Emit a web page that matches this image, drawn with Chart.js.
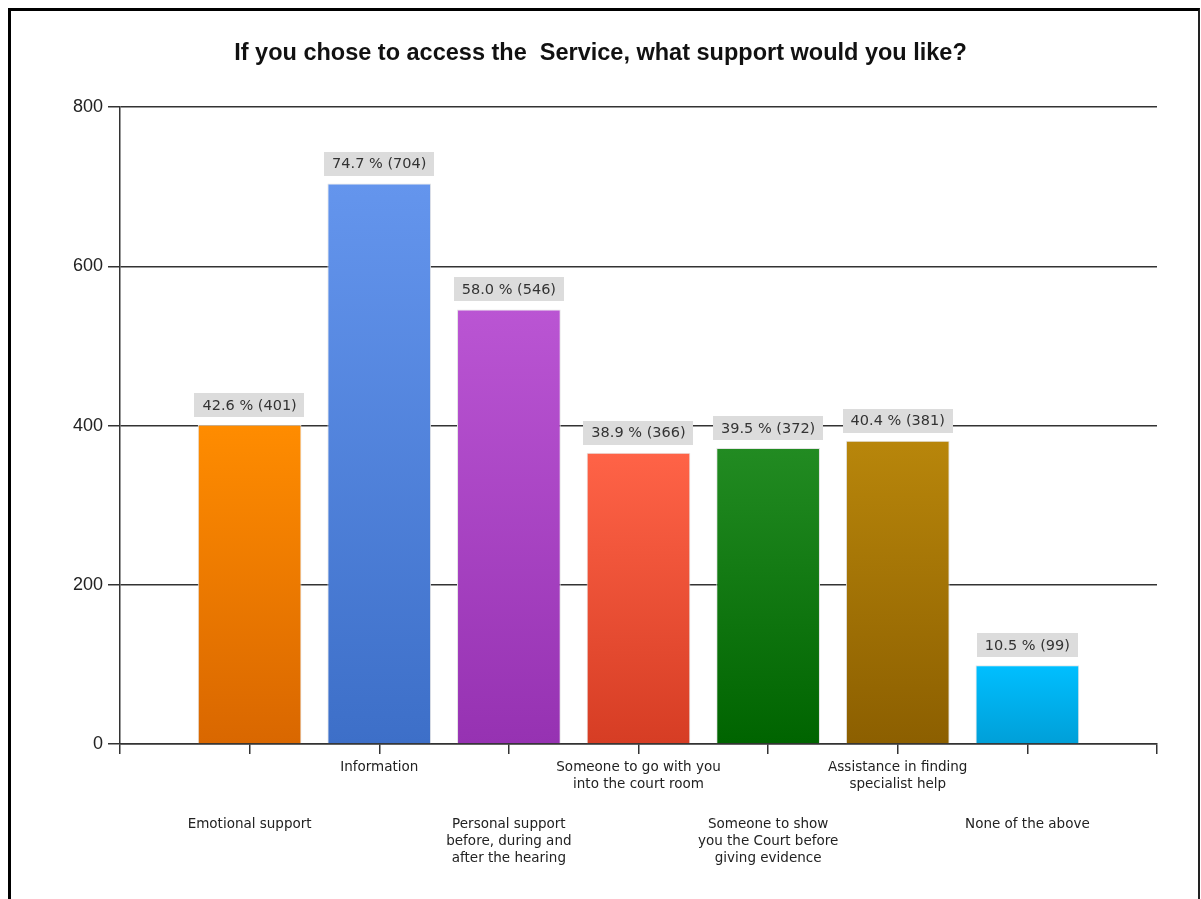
<!DOCTYPE html>
<html>
<head>
<meta charset="utf-8">
<title>Support wanted from the Service</title>
<script src="https://cdn.jsdelivr.net/npm/chart.js@4/dist/chart.umd.min.js"></script>
<style>
  html, body { margin: 0; padding: 0; background: #fff; overflow: hidden; }
  #frame {
    position: absolute; left: 8px; top: 8px; width: 1187px; height: 1000px;
    border-left: 3px solid #000; border-top: 3px solid #000; border-right: 2px solid #222;
  }
  #chart { position: absolute; left: 0; top: 0; }
</style>
</head>
<body>
<div id="frame"></div>
<canvas id="chart" width="1201" height="899"></canvas>
<script>
const titleText = "If you chose to access the  Service, what support would you like?"
const categories = [
  ["Emotional support"],
  ["Information"],
  ["Personal support", "before, during and", "after the hearing"],
  ["Someone to go with you", "into the court room"],
  ["Someone to show", "you the Court before", "giving evidence"],
  ["Assistance in finding", "specialist help"],
  ["None of the above"]
]
const counts = [401, 704, 546, 366, 372, 381, 99]
const percents = [42.6, 74.7, 58.0, 38.9, 39.5, 40.4, 10.5]
const topColors = ["#ff8c00", "#6495ed", "#ba55d3", "#ff6347", "#228b22", "#b8860b", "#00bfff"]
const bottomColors = ["#d96700", "#3d6fc8", "#9632b2", "#d63d24", "#006400", "#8c5f00", "#009fd8"]
const yTicks = [0, 200, 400, 600, 800]

// one empty slot on each side, so bars sit one slot in from the axis ends
const labels = ["", ...categories.map(c => c.join(" ")), ""]
const values = [null, ...counts, null]

const axisColor = "#333"

function barGradient(ctx) {
  const i = ctx.dataIndex - 1
  const chart = ctx.chart
  const area = chart.chartArea
  if (i < 0 || i >= counts.length) return "#fff"
  if (!area) return topColors[i]
  const yTop = chart.scales.y.getPixelForValue(counts[i])
  const g = chart.ctx.createLinearGradient(0, yTop, 0, area.bottom)
  g.addColorStop(0, topColors[i])
  g.addColorStop(1, bottomColors[i])
  return g
}

const valueBoxes = {
  id: "valueBoxes",
  afterDatasetsDraw(chart) {
    const ctx = chart.ctx
    const meta = chart.getDatasetMeta(0)
    ctx.save()
    ctx.font = "14.5px 'DejaVu Sans'"
    ctx.textAlign = "center"
    ctx.textBaseline = "middle"
    meta.data.forEach((bar, idx) => {
      const i = idx - 1
      if (i < 0 || i >= counts.length) return
      const text = `${percents[i].toFixed(1)} % (${counts[i]})`
      const w = ctx.measureText(text).width + 16
      const h = 24
      const bottom = bar.y - 8
      ctx.fillStyle = "#dcdcdc"
      ctx.fillRect(Math.round(bar.x - w / 2), Math.round(bottom - h), Math.round(w), h)
      ctx.fillStyle = "#333"
      ctx.fillText(text, bar.x, bottom - h / 2 + 1)
    })
    ctx.restore()
  }
}

const chart = new Chart(document.getElementById("chart"), {
  type: "bar",
  data: {
    labels: labels,
    datasets: [{
      data: values,
      backgroundColor: barGradient,
      borderColor: "#e4e4e4",
      borderWidth: 1,
      barPercentage: 0.8,
      categoryPercentage: 1
    }]
  },
  options: {
    responsive: false,
    animation: false,
    layout: { padding: 0 },
    plugins: {
      legend: { display: false },
      tooltip: { enabled: false },
      title: {
        display: true,
        text: titleText,
        color: "#111",
        font: { family: "'Liberation Sans', Arial", size: 23.5, weight: "bold", lineHeight: 1.2 },
        padding: { top: 39, bottom: 40 }
      }
    },
    scales: {
      x: {
        type: "category",
        position: "bottom",
        weight: 1,
        offset: false,
        grid: { display: true, offset: false, drawOnChartArea: false, drawTicks: true, tickLength: 10, color: axisColor, lineWidth: 1.5 },
        border: { display: true, color: axisColor, width: 1.5 },
        ticks: {
          autoSkip: false, maxRotation: 0, minRotation: 0, padding: 5,
          color: "#222",
          font: { family: "'DejaVu Sans'", size: 13.5, lineHeight: 1.25 },
          callback: (v, i) => (i >= 1 && i <= categories.length && (i - 1) % 2 === 1) ? categories[i - 1] : ""
        },
        afterFit: s => { s.height = 60 }
      },
      x2: {
        type: "category",
        axis: "x",
        position: "bottom",
        weight: 2,
        offset: false,
        grid: { display: false },
        border: { display: false },
        ticks: {
          autoSkip: false, maxRotation: 0, minRotation: 0, padding: 4,
          color: "#222",
          font: { family: "'DejaVu Sans'", size: 13.5, lineHeight: 1.25 },
          callback: (v, i) => (i >= 1 && i <= categories.length && (i - 1) % 2 === 0) ? categories[i - 1] : ""
        },
        afterFit: s => { s.height = 95 }
      },
      y: {
        min: 0,
        max: 800,
        grid: { color: axisColor, lineWidth: 1.5, tickLength: 12 },
        border: { display: true, color: axisColor, width: 1.5 },
        afterBuildTicks: s => { s.ticks = yTicks.map(v => ({ value: v })) },
        ticks: {
          padding: 5,
          color: "#222",
          font: { family: "'Liberation Sans', Arial", size: 18 }
        },
        afterFit: s => { s.width = 120 }
      },
      // empty right-hand strip so the plot ends where the original does
      yRight: {
        type: "linear",
        position: "right",
        grid: { display: false },
        border: { display: false },
        ticks: { display: false },
        afterFit: s => { s.width = 44 }
      }
    }
  },
  plugins: [valueBoxes]
})
</script>
</body>
</html>
